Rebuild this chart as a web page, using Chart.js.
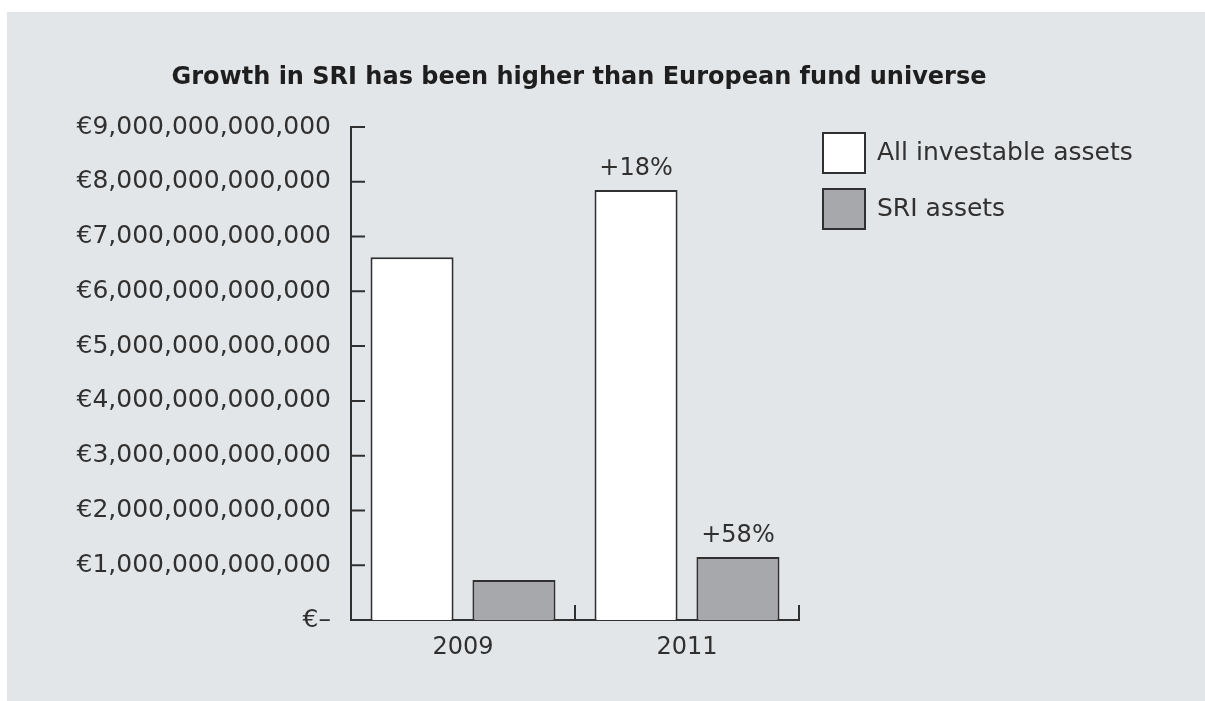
<!DOCTYPE html>
<html>
<head>
<meta charset="utf-8">
<script src="https://cdn.jsdelivr.net/npm/chart.js@4/dist/chart.umd.min.js"></script>
<style>
  body { margin: 0; background: #fff; }
  #panel { position: absolute; left: 7px; top: 12px; right: 0; bottom: 0; background: #e3e6e9; }
  #wrap { position: absolute; left: 0; top: 0; width: 1144px; height: 689px; }
</style>
</head>
<body>
<div id="panel"><div id="wrap"><canvas id="barChart"></canvas></div></div>
<script>
const years = ["2009", "2011"];
const allAssets = [6.62e12, 7.85e12];
const sriAssets = [0.73e12, 1.15e12];
const allGrowth = ["", "+18%"];
const sriGrowth = ["", "+58%"];
const yTicks = [0, 1e12, 2e12, 3e12, 4e12, 5e12, 6e12, 7e12, 8e12, 9e12];
const title = "Growth in SRI has been higher than European fund universe";

const FONT = "'DejaVu Sans', sans-serif";
const INK = "#303030";

// title, growth labels above bars, inward tick marks, legend
const extras = {
  id: "extras",
  afterDatasetsDraw(chart) {
    const ctx = chart.ctx;
    const growth = [allGrowth, sriGrowth];
    ctx.save();

    ctx.fillStyle = "#1e1e1e";
    ctx.font = "bold 24px " + FONT;
    ctx.textAlign = "center";
    ctx.textBaseline = "middle";
    ctx.fillText(title, 572, 66);

    ctx.fillStyle = INK;
    ctx.font = "24px " + FONT;
    ctx.textBaseline = "alphabetic";
    chart.data.datasets.forEach((ds, i) => {
      chart.getDatasetMeta(i).data.forEach((bar, j) => {
        if (growth[i][j]) ctx.fillText(growth[i][j], bar.x, bar.y - 15);
      });
    });

    const x = chart.scales.x, y = chart.scales.y;
    ctx.strokeStyle = INK;
    ctx.lineWidth = 2;
    ctx.beginPath();
    yTicks.forEach(v => {
      const py = y.getPixelForValue(v);
      ctx.moveTo(x.left, py);
      ctx.lineTo(x.left + 14, py);
    });
    const mid = (x.getPixelForValue(0) + x.getPixelForValue(1)) / 2;
    [mid, x.right].forEach(px => {
      ctx.moveTo(px, y.bottom);
      ctx.lineTo(px, y.bottom - 15);
    });
    ctx.stroke();

    // legend
    ctx.font = "25px " + FONT;
    ctx.textAlign = "left";
    ctx.textBaseline = "middle";
    chart.data.datasets.forEach((ds, i) => {
      const by = 121 + i * 56;
      ctx.fillStyle = ds.backgroundColor;
      ctx.fillRect(816, by, 42, 40);
      ctx.strokeRect(816, by, 42, 40);
      ctx.fillStyle = INK;
      ctx.fillText(ds.label, 870, by + 20);
    });
    ctx.restore();
  }
};

new Chart(document.getElementById("barChart"), {
  type: "bar",
  data: {
    labels: years,
    datasets: [
      { label: "All investable assets", data: allAssets, backgroundColor: "#ffffff", borderColor: INK, borderWidth: 2 },
      { label: "SRI assets", data: sriAssets, backgroundColor: "#a6a8ab", borderColor: INK, borderWidth: 2 }
    ]
  },
  options: {
    responsive: true,
    maintainAspectRatio: false,
    animation: false,
    categoryPercentage: 0.91,
    barPercentage: 0.815,
    layout: { padding: { left: 0, right: 352, top: 115, bottom: 0 } },
    plugins: {
      legend: { display: false },
      tooltip: { enabled: false },
      title: { display: false }
    },
    scales: {
      x: {
        grid: { display: false },
        border: { display: true, color: INK, width: 2 },
        ticks: { color: INK, font: { family: FONT, size: 24 }, padding: 5 },
        afterFit: s => { s.height = 81; }
      },
      y: {
        min: 0,
        max: 9e12,
        afterBuildTicks: s => { s.ticks = yTicks.map(v => ({ value: v })); },
        grid: { display: false },
        border: { display: true, color: INK, width: 2 },
        ticks: {
          color: INK,
          font: { family: FONT, size: 25 },
          padding: 12,
          callback: v => v === 0 ? "€–" : "€" + v.toLocaleString("en-US")
        },
        afterFit: s => { s.width = 344; }
      }
    }
  },
  plugins: [extras]
});
</script>
</body>
</html>
